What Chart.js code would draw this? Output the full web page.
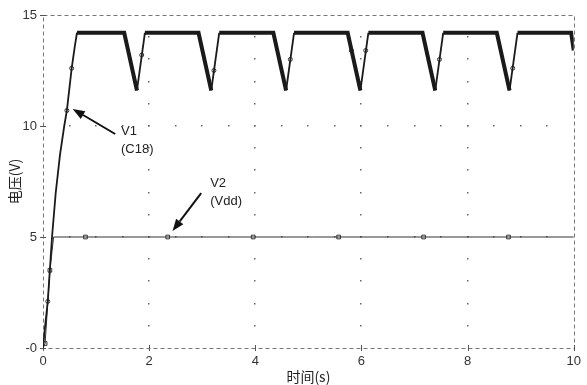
<!DOCTYPE html>
<html><head><meta charset="utf-8">
<script src="https://cdn.jsdelivr.net/npm/chart.js@4.4.1/dist/chart.umd.min.js"></script>
<style>html,body{margin:0;padding:0;background:#fff}canvas{display:block}</style>
</head><body><canvas id="c" width="587" height="385"></canvas>
<script>
// ---- data ----
const xTicks = [0, 2, 4, 6, 8, 10];
const yTicks = [0, 5, 10, 15];
const yTickLabels = ['-0', '5', '10', '15'];
const gridX = [2, 4, 6, 8];
const gridY = [5, 10];

const v1Time = [0, 0.04, 0.09, 0.17, 0.24, 0.32, 0.40, 0.45, 0.54, 0.60, 0.64,
  1.53, 1.77, 1.92, 2.93, 3.17, 3.32, 4.34, 4.58, 4.73, 5.74, 5.98, 6.13,
  7.15, 7.39, 7.54, 8.55, 8.79, 8.94, 9.95, 10.0];
const v1Volt = [0, 1.0, 2.1, 5.0, 7.0, 8.7, 10.0, 10.7, 12.6, 13.6, 14.2,
  14.2, 11.6, 14.2, 14.2, 11.6, 14.2, 14.2, 11.6, 14.2, 14.2, 11.6, 14.2,
  14.2, 11.6, 14.2, 14.2, 11.6, 14.2, 14.2, 13.4];
const v1MarkTime = [0.09, 0.45, 0.54, 1.86, 3.22, 4.66, 5.81, 6.08, 7.47, 8.85];
const v1MarkVolt = [2.1, 10.7, 12.6, 13.2, 12.5, 13.0, 13.4, 13.4, 13.0, 12.6];

const v2Time = [0, 0.04, 0.13, 0.20, 10.0];
const v2Volt = [0, 0.2, 3.5, 5.0, 5.0];
const v2MarkTime = [0.04, 0.13, 0.80, 2.35, 3.96, 5.57, 7.17, 8.77];
const v2MarkVolt = [0.2, 3.5, 5, 5, 5, 5, 5, 5];

const annotTexts = [['V1', '(C18)'], ['V2', '(Vdd)']];
const xTitle = '时间(s)';
const yTitle = '电压(V)';

// ---- layout of annotations (data coordinates) ----
const annots = [
  {from: [1.36, 9.64], to: [0.56, 10.77], text: [1.47, 9.77], lines: annotTexts[0]},
  {from: [2.98, 6.98], to: [2.44, 5.27], text: [3.15, 7.43], lines: annotTexts[1]}
];

const pts = (xs, ys) => xs.map((x, i) => ({x, y: ys[i]}));
const numFont = "'Liberation Sans Narrow', 'Liberation Sans', Arial, sans-serif";
const cjkFont = "'Noto Sans CJK SC', 'Noto Sans', sans-serif";

const decor = {
  id: 'decor',
  beforeDatasetsDraw(chart) {
    const {ctx, chartArea: a, scales: {x, y}} = chart;
    ctx.save();
    ctx.fillStyle = '#666';
    for (const gx of gridX) {
      const px = Math.round(x.getPixelForValue(gx));
      for (let v = 1; v < 15; v += 1) {
        const py = Math.round(y.getPixelForValue(v));
        ctx.fillRect(px - 1, py - 1, 1.5, 1.5);
      }
    }
    for (const gy of gridY) {
      const py = Math.round(y.getPixelForValue(gy));
      for (let t = 0.5; t < 10; t += 0.5) {
        const px = Math.round(x.getPixelForValue(t));
        ctx.fillRect(px - 1, py - 1, 1.5, 1.5);
      }
    }
    ctx.strokeStyle = '#777';
    ctx.lineWidth = 1;
    ctx.setLineDash([4, 3]);
    ctx.strokeRect(Math.round(a.left) + 0.5, Math.round(a.top) + 0.5,
      Math.round(a.right - a.left), Math.round(a.bottom - a.top));
    ctx.setLineDash([]);
    ctx.strokeStyle = '#555';
    ctx.beginPath();
    for (const v of yTicks) {
      const py = Math.round(y.getPixelForValue(v)) + 0.5;
      ctx.moveTo(a.left - 3, py); ctx.lineTo(a.left + 3, py);
    }
    for (const v of xTicks) {
      const px = Math.round(x.getPixelForValue(v)) + 0.5;
      ctx.moveTo(px, a.bottom - 3); ctx.lineTo(px, a.bottom + 3);
    }
    ctx.stroke();
    ctx.restore();
  },
  afterDatasetsDraw(chart) {
    const {ctx, scales: {x, y}} = chart;
    ctx.save();
    for (const an of annots) {
      const x1 = x.getPixelForValue(an.from[0]), y1 = y.getPixelForValue(an.from[1]);
      const x2 = x.getPixelForValue(an.to[0]), y2 = y.getPixelForValue(an.to[1]);
      const ang = Math.atan2(y2 - y1, x2 - x1);
      const hl = 12, hw = 4.5;
      const bx = x2 - hl * Math.cos(ang), by = y2 - hl * Math.sin(ang);
      ctx.strokeStyle = '#111'; ctx.fillStyle = '#111'; ctx.lineWidth = 2;
      ctx.beginPath(); ctx.moveTo(x1, y1); ctx.lineTo(bx, by); ctx.stroke();
      ctx.beginPath();
      ctx.moveTo(x2, y2);
      ctx.lineTo(bx + hw * Math.sin(ang), by - hw * Math.cos(ang));
      ctx.lineTo(bx - hw * Math.sin(ang), by + hw * Math.cos(ang));
      ctx.closePath(); ctx.fill();
      ctx.font = '13px ' + numFont;
      ctx.fillStyle = '#222';
      ctx.textBaseline = 'middle';
      ctx.textAlign = 'left';
      const tx = x.getPixelForValue(an.text[0]), ty = y.getPixelForValue(an.text[1]);
      an.lines.forEach((s, i) => ctx.fillText(s, tx, ty + i * 18));
    }
    ctx.restore();
  }
};

new Chart(document.getElementById('c'), {
  type: 'line',
  data: {
    datasets: [
      {label: 'V1', data: pts(v1Time, v1Volt), borderColor: '#1a1a1a', borderWidth: 3,
        pointRadius: 0, tension: 0, fill: false,
        segment: {borderWidth: c => (c.p1.parsed.y > c.p0.parsed.y ? 1.8 : 4)}},
      {label: 'V2', data: pts(v2Time, v2Volt), borderColor: '#333', borderWidth: 1,
        pointRadius: 0, tension: 0, fill: false},
      {label: 'V1 markers', data: pts(v1MarkTime, v1MarkVolt), showLine: false,
        pointStyle: 'circle', pointRadius: 2, pointBackgroundColor: '#fff',
        pointBorderColor: '#333', pointBorderWidth: 1},
      {label: 'V2 markers', data: pts(v2MarkTime, v2MarkVolt), showLine: false,
        pointStyle: 'rect', pointRadius: 2.6, pointBackgroundColor: '#fff',
        pointBorderColor: '#333', pointBorderWidth: 1}
    ]
  },
  options: {
    responsive: false,
    devicePixelRatio: 1,
    animation: false,
    layout: {padding: {top: 15, right: 7, left: 0, bottom: 0}},
    plugins: {legend: {display: false}, tooltip: {enabled: false}},
    scales: {
      x: {
        type: 'linear', min: 0, max: 10,
        afterBuildTicks: s => { s.ticks = xTicks.map(v => ({value: v})); },
        afterFit: s => { s.height = 37; },
        grid: {display: false, drawTicks: false},
        border: {display: false},
        ticks: {padding: 6, color: '#333', font: {family: numFont, size: 13}, maxRotation: 0},
        title: {display: true, text: xTitle, color: '#222', padding: {top: 0, bottom: 0},
          font: {family: cjkFont, size: 14}}
      },
      y: {
        type: 'linear', min: 0, max: 15,
        afterBuildTicks: s => { s.ticks = yTicks.map(v => ({value: v})); },
        afterFit: s => { s.width = 43; },
        grid: {display: false, drawTicks: false},
        border: {display: false},
        ticks: {padding: 6, color: '#333', font: {family: numFont, size: 13},
          callback: v => yTickLabels[yTicks.indexOf(v)]},
        title: {display: true, text: yTitle, color: '#222', padding: {top: 6, bottom: 0},
          font: {family: cjkFont, size: 14}}
      }
    }
  },
  plugins: [decor]
});
</script>
</body></html>
